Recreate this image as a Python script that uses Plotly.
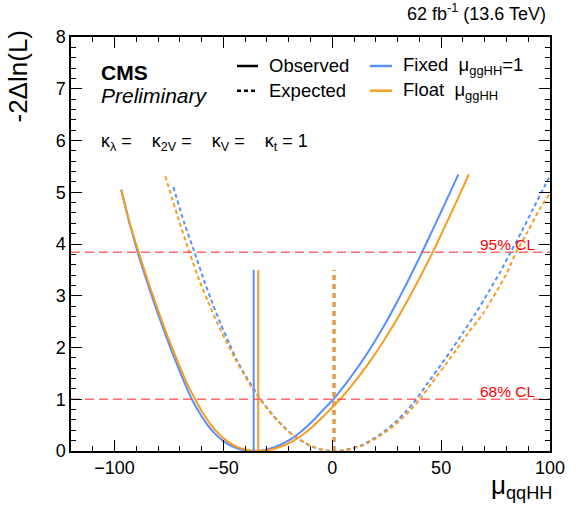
import plotly.graph_objects as go

BLUE = "#5790fc"
ORANGE = "#f89c20"
FONT = "Liberation Sans"

# Observed, Fixed mu_ggHH = 1 (blue solid)
obs_fixed_x = [-97, -93, -89.4, -88, -84, -80, -76, -72, -68, -64.5, -61, -57.6, -54, -50, -46, -42.4, -39,
               -36, -32, -28, -24, -20, -16, -12, -8, -4, 0.5, 5, 9.7, 14, 18.5, 23.1, 27, 31.6,
               36, 40.7, 45, 50, 54, 57.9]
obs_fixed_y = [5.05, 4.38, 3.84, 3.65, 3.13, 2.64, 2.18, 1.74, 1.33, 1.0, 0.74, 0.52, 0.34, 0.19, 0.09, 0.035, 0.008,
               0.0, 0.014, 0.053, 0.116, 0.204, 0.32, 0.461, 0.623, 0.803, 1.0, 1.234, 1.497, 1.755, 2.048, 2.37,
               2.663, 3.026, 3.391, 3.795, 4.173, 4.623, 4.987, 5.346]

# Observed, Float mu_ggHH (orange solid)
obs_float_x = [-96.8, -93, -88.9, -87.5, -83.5, -79.5, -75.5, -71.3, -67, -63, -59.5, -56, -52.3, -48.3, -44.3,
               -40.6, -37.2, -34, -29.9, -25.8, -21.7, -17.6, -13.5, -9.3, -5.2, -1.0, 3.6, 8.3, 13.2, 17.7,
               22.4, 27.2, 31.3, 36.1, 40.7, 45.6, 49.9, 54.9, 58.9, 62.7]
obs_float_y = [5.05, 4.4, 3.84, 3.65, 3.14, 2.66, 2.2, 1.76, 1.33, 1.0, 0.74, 0.52, 0.34, 0.19, 0.09,
               0.035, 0.008, 0.0, 0.014, 0.053, 0.116, 0.204, 0.32, 0.461, 0.623, 0.803, 1.0, 1.234, 1.497, 1.755,
               2.048, 2.37, 2.663, 3.026, 3.391, 3.795, 4.173, 4.623, 4.987, 5.346]

# Expected, Fixed mu_ggHH = 1 (blue dashed)
exp_fixed_x = [-73, -68, -63.2, -59, -55, -51, -47.1, -44, -41, -38, -35, -31, -27, -23, -19, -15, -11, -7, -3,
               0.6, 5, 9, 12.8, 17, 21.6, 25.5, 29.3, 34, 38.4, 44, 50, 55, 59.8, 66, 72, 77, 81.9, 87, 92,
               97.8, 100]
exp_fixed_y = [5.1, 4.41, 3.83, 3.31, 2.85, 2.43, 2.06, 1.77, 1.54, 1.33, 1.13, 0.89, 0.68, 0.5, 0.34, 0.22, 0.12,
               0.05, 0.01, 0.0, 0.013, 0.05, 0.1, 0.19, 0.31, 0.43, 0.57, 0.77, 0.99, 1.32, 1.67, 1.97, 2.27,
               2.67, 3.09, 3.45, 3.84, 4.24, 4.66, 5.14, 5.32]

# Expected, Float mu_ggHH (orange dashed)
exp_float_x = [-76.7, -71, -65.6, -61, -57, -53, -49, -45, -41, -37, -33.2, -29, -25, -21, -17, -13, -9, -5, -2,
               1, 5.4, 9.6, 13.5, 17.8, 22.5, 26.5, 30.5, 35.4, 40, 45.8, 52, 57.2, 62.2, 69.5, 75.5, 80.3,
               84.4, 89.8, 95, 100]
exp_float_y = [5.31, 4.53, 3.84, 3.29, 2.88, 2.49, 2.14, 1.81, 1.51, 1.23, 1.0, 0.77, 0.58, 0.41, 0.28, 0.17,
               0.085, 0.03, 0.008, 0.0, 0.013, 0.05, 0.1, 0.19, 0.31, 0.43, 0.57, 0.77, 0.99, 1.32, 1.67, 1.97,
               2.27, 2.67, 3.09, 3.45, 3.84, 4.24, 4.66, 4.98]

# best-fit markers
best_obs_fixed = -36.1
best_obs_float = -34.0
best_exp = 0.8
marker_top = 3.5

cl_levels = [1.0, 3.84]
cl_labels = ["68% CL", "95% CL"]

x_range = [-120, 100]
y_range = [0, 8]

fig = go.Figure()

for x, y, c, d in [(obs_fixed_x, obs_fixed_y, BLUE, "solid"),
                   (obs_float_x, obs_float_y, ORANGE, "solid"),
                   (exp_fixed_x, exp_fixed_y, BLUE, "4px,3px"),
                   (exp_float_x, exp_float_y, ORANGE, "4px,3px")]:
    fig.add_trace(go.Scatter(x=x, y=y, mode="lines", line=dict(color=c, width=2, dash=d, shape="spline",
                                                               smoothing=0.6),
                             showlegend=False, hoverinfo="skip"))

fig.add_trace(go.Scatter(x=[best_obs_fixed, best_obs_fixed], y=[0, marker_top], mode="lines",
                         line=dict(color=BLUE, width=2), showlegend=False))
fig.add_trace(go.Scatter(x=[best_obs_float, best_obs_float], y=[0, marker_top], mode="lines",
                         line=dict(color=ORANGE, width=2), showlegend=False))
fig.add_trace(go.Scatter(x=[best_exp, best_exp], y=[0, marker_top], mode="lines",
                         line=dict(color="#e09a45", width=3.5, dash="5px,4px"), showlegend=False))

for lvl, lab in zip(cl_levels, cl_labels):
    fig.add_trace(go.Scatter(x=x_range, y=[lvl, lvl], mode="lines",
                             line=dict(color="rgba(255,60,60,0.75)", width=1.5, dash="9px,5px"),
                             showlegend=False))
    fig.add_annotation(x=94.3, y=lvl, xref="x", yref="y", text=lab, showarrow=False,
                       xanchor="right", yanchor="bottom", yshift=-3,
                       font=dict(family=FONT, size=15.5, color="#ff0000"))

# page pixel -> paper coords (plot area spans x 71..550, y 37..451 on the page)
def px_x(p):
    return (p - 71) / 479

def px_y(p):
    return (451 - p) / 414

# hand-made legend (ROOT style)
legend_rows = [("Observed", "solid", "black", 237, 258, 66),
               ("Expected", "4px,3px", "black", 237, 258, 90.7),
               ("Fixed\u00a0\u00a0μ<sub>ggHH</sub>=1", "solid", BLUE, 370, 392, 66),
               ("Float\u00a0\u00a0μ<sub>ggHH</sub>", "solid", ORANGE, 370, 392, 90.7)]
for text, dash, col, x0, x1, yy in legend_rows:
    fig.add_shape(type="line", xref="paper", yref="paper", x0=px_x(x0), x1=px_x(x1),
                  y0=px_y(yy), y1=px_y(yy), line=dict(color=col, width=2.5, dash=dash))
    fig.add_annotation(x=px_x(x1 + 9), y=px_y(yy), xref="paper", yref="paper", text=text, showarrow=False,
                       xanchor="left", yanchor="middle", font=dict(family=FONT, size=18.5, color="black"))

fig.add_annotation(x=px_x(99), y=px_y(72), xref="paper", yref="paper", text="<b>CMS</b>", showarrow=False,
                   xanchor="left", yanchor="middle", font=dict(family=FONT, size=21, color="black"))
fig.add_annotation(x=px_x(99), y=px_y(96), xref="paper", yref="paper", text="<i>Preliminary</i>", showarrow=False,
                   xanchor="left", yanchor="middle", font=dict(family=FONT, size=21, color="black"))
sp = "\u00a0" * 4
fig.add_annotation(x=px_x(99), y=px_y(142), xref="paper", yref="paper",
                   text=f"κ<sub>λ</sub> ={sp}κ<sub>2V</sub> ={sp}κ<sub>V</sub> ={sp}κ<sub>t</sub> = 1",
                   showarrow=False, xanchor="left", yanchor="middle",
                   font=dict(family=FONT, size=18, color="black"))
fig.add_annotation(x=px_x(548), y=px_y(13), xref="paper", yref="paper",
                   text="62 fb<sup>-1</sup> (13.6 TeV)", showarrow=False, xanchor="right", yanchor="middle",
                   font=dict(family=FONT, size=18, color="black"))
fig.add_annotation(x=px_x(18), y=px_y(28), xref="paper", yref="paper", text="-2Δln(L)", showarrow=False,
                   textangle=-90, xanchor="center", yanchor="top",
                   font=dict(family=FONT, size=26, color="black"))
fig.add_annotation(x=px_x(554), y=px_y(486), xref="paper", yref="paper", text="μ<sub>qqHH</sub>",
                   showarrow=False, xanchor="right", yanchor="middle",
                   font=dict(family=FONT, size=26, color="black"))

axis_common = dict(showgrid=False, zeroline=False, showline=True, linecolor="black", linewidth=1.5,
                   mirror="ticks", ticks="inside", ticklen=11, tickwidth=1.2, tickcolor="black",
                   tickfont=dict(family=FONT, size=18, color="black"))
fig.update_xaxes(range=x_range, tick0=0, dtick=50,
                 minor=dict(ticks="inside", ticklen=5.5, dtick=10, tickcolor="black", tickwidth=1.2),
                 **axis_common)
fig.update_yaxes(range=y_range, tick0=0, dtick=1,
                 minor=dict(ticks="inside", ticklen=5.5, dtick=0.2, tickcolor="black", tickwidth=1.2),
                 **axis_common)

fig.update_layout(width=580, height=519, margin=dict(l=71, r=30, t=37, b=68),
                  plot_bgcolor="white", paper_bgcolor="white", showlegend=False)

# drop the browser's default 8px body margin so the figure sits at the page corner
fig.write_html("out.html", config={"displayModeBar": False},
               post_script="document.body.style.margin='0';document.body.style.overflow='hidden';")
